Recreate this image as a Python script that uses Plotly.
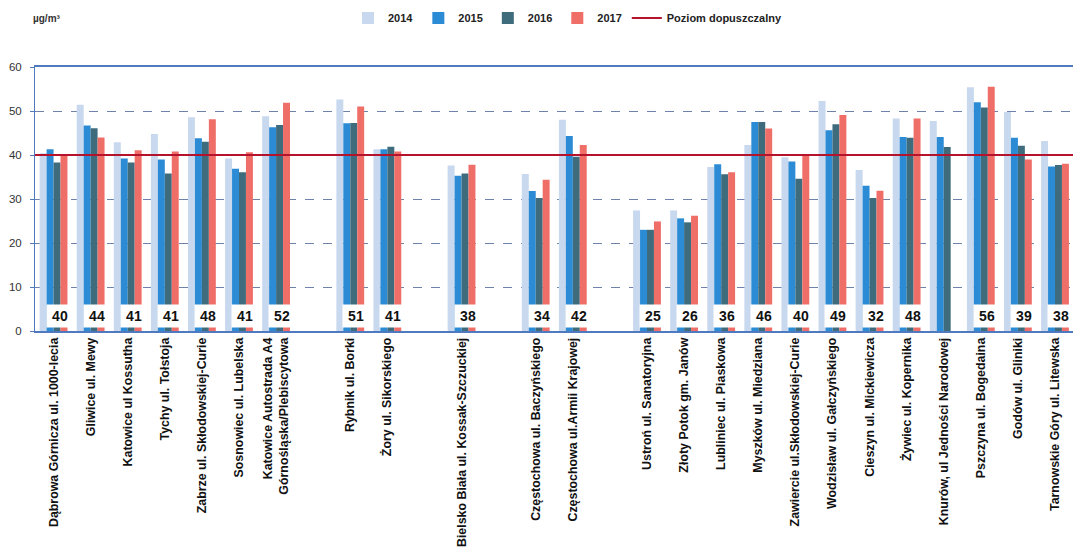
import plotly.graph_objects as go

stations = [
    "Dąbrowa Górnicza ul. 1000-lecia", "Gliwice ul. Mewy", "Katowice ul Kossutha",
    "Tychy ul. Tołstoja", "Zabrze ul. Skłodowskiej-Curie", "Sosnowiec ul. Lubelska",
    "Katowice Autostrada A4<br>Górnośląska/Plebiscytowa", " ",
    "Rybnik ul. Borki", "Żory ul. Sikorskiego", "  ",
    "Bielsko Biała ul. Kossak-Szczuckiej", "   ",
    "Częstochowa ul. Baczyńskiego", "Częstochowa ul.Armii Krajowej", "    ",
    "Ustroń ul. Sanatoryjna", "Złoty Potok gm. Janów", "Lubliniec ul. Piaskowa",
    "Myszków ul. Miedziana", "Zawiercie ul.Skłodowskiej-Curie", "Wodzisław ul. Gałczyńskiego",
    "Cieszyn ul. Mickiewicza", "Żywiec ul. Kopernika", "Knurów, ul Jedności Narodowej",
    "Pszczyna ul. Bogedaina", "Godów ul. Gliniki", "Tarnowskie Góry ul. Litewska",
]

v2014 = [40.4, 51.4, 42.9, 44.8, 48.6, 39.2, 48.8, None, 52.6, 41.3, None, 37.6, None, 35.7, 48.0, None,
         27.4, 27.4, 37.3, 42.3, 39.5, 52.3, 36.6, 48.3, 47.7, 55.4, 49.8, 43.2]
v2015 = [41.3, 46.7, 39.2, 39.0, 43.8, 36.9, 46.3, None, 47.2, 41.3, None, 35.3, None, 31.8, 44.3, None,
         23.0, 25.6, 37.9, 47.5, 38.5, 45.6, 33.0, 44.1, 44.1, 52.0, 43.9, 37.4]
v2016 = [38.3, 46.1, 38.3, 35.8, 43.0, 36.1, 46.8, None, 47.3, 41.9, None, 35.8, None, 30.2, 39.6, None,
         23.0, 24.7, 35.6, 47.5, 34.6, 47.0, 30.2, 43.9, 41.8, 50.8, 42.1, 37.7]
v2017 = [40.0, 44.0, 41.1, 40.8, 48.1, 40.6, 51.9, None, 51.0, 40.8, None, 37.8, None, 34.4, 42.3, None,
         24.9, 26.2, 36.1, 46.0, 39.8, 49.1, 31.9, 48.3, None, 55.5, 39.0, 38.0]
limit_value = 40
years = ["2014", "2015", "2016", "2017"]
y_ticks = [0, 10, 20, 30, 40, 50, 60]

colors = ["#c8d8ef", "#2b8bd5", "#3e6c7d", "#ef6e68"]
font_fam = "Liberation Sans, Arial, sans-serif"

fig = go.Figure()
for name, vals, col in zip(years, [v2014, v2015, v2016, v2017], colors):
    fig.add_trace(go.Bar(
        x=stations, y=vals, name=name,
        marker=dict(color=col, line=dict(width=0)),
    ))

fig.add_trace(go.Scatter(
    x=[0, 1], y=[limit_value, limit_value], xaxis="x2", mode="lines",
    line=dict(color="#b5122b", width=2), name="Poziom dopuszczalny",
))

annotations = []
for st, v in zip(stations, v2017):
    if v is None:
        continue
    annotations.append(dict(
        x=st, y=3.4, xref="x", yref="y", text="<b>%d</b>" % int(v + 0.5),
        showarrow=False, xshift=6, bgcolor="white", borderpad=2,
        font=dict(size=14, color="#111", family=font_fam), width=22, height=18,
    ))
annotations.append(dict(
    x=0.0115, y=1.1856, xref="paper", yref="paper", text="<b>µg/m³</b>", showarrow=False,
    xanchor="center", yanchor="middle", font=dict(size=10, color="#333", family=font_fam),
))

fig.update_layout(
    width=1073, height=547,
    margin=dict(l=27, r=6, t=59, b=224, autoexpand=False),
    paper_bgcolor="white", plot_bgcolor="white",
    barmode="group", bargap=0.25, bargroupgap=0,
    font=dict(family=font_fam, color="#222"),
    legend=dict(orientation="h", x=0.512, xanchor="center", yref="container",
                y=1 - 10 / 547, yanchor="middle",
                font=dict(size=11, family=font_fam, color="#222", weight="bold"),
                traceorder="normal"),
    annotations=annotations,
    showlegend=True,
)
fig.update_xaxes(
    type="category", categoryorder="array", categoryarray=stations, automargin=False,
    tickangle=-90, tickfont=dict(size=12.4, family=font_fam, color="#111", weight="bold"),
    showline=True, linecolor="#4f7ac0", linewidth=1.5, mirror=True,
    showgrid=False, ticks="",
)
fig.update_layout(xaxis2=dict(overlaying="x", range=[0, 1], visible=False, fixedrange=True))
fig.update_yaxes(
    range=[0, 60], tickvals=y_ticks, ticks="outside", ticklen=4, tickcolor="#4f7ac0",
    tickfont=dict(size=11.5, color="#333", family=font_fam), ticklabelstandoff=6,
    automargin=False,
    showgrid=True, gridcolor="#6f82aa", griddash="dash", gridwidth=1,
    showline=True, linecolor="#4f7ac0", linewidth=1, mirror=True, zeroline=False,
)
fig.write_html("out.html")
